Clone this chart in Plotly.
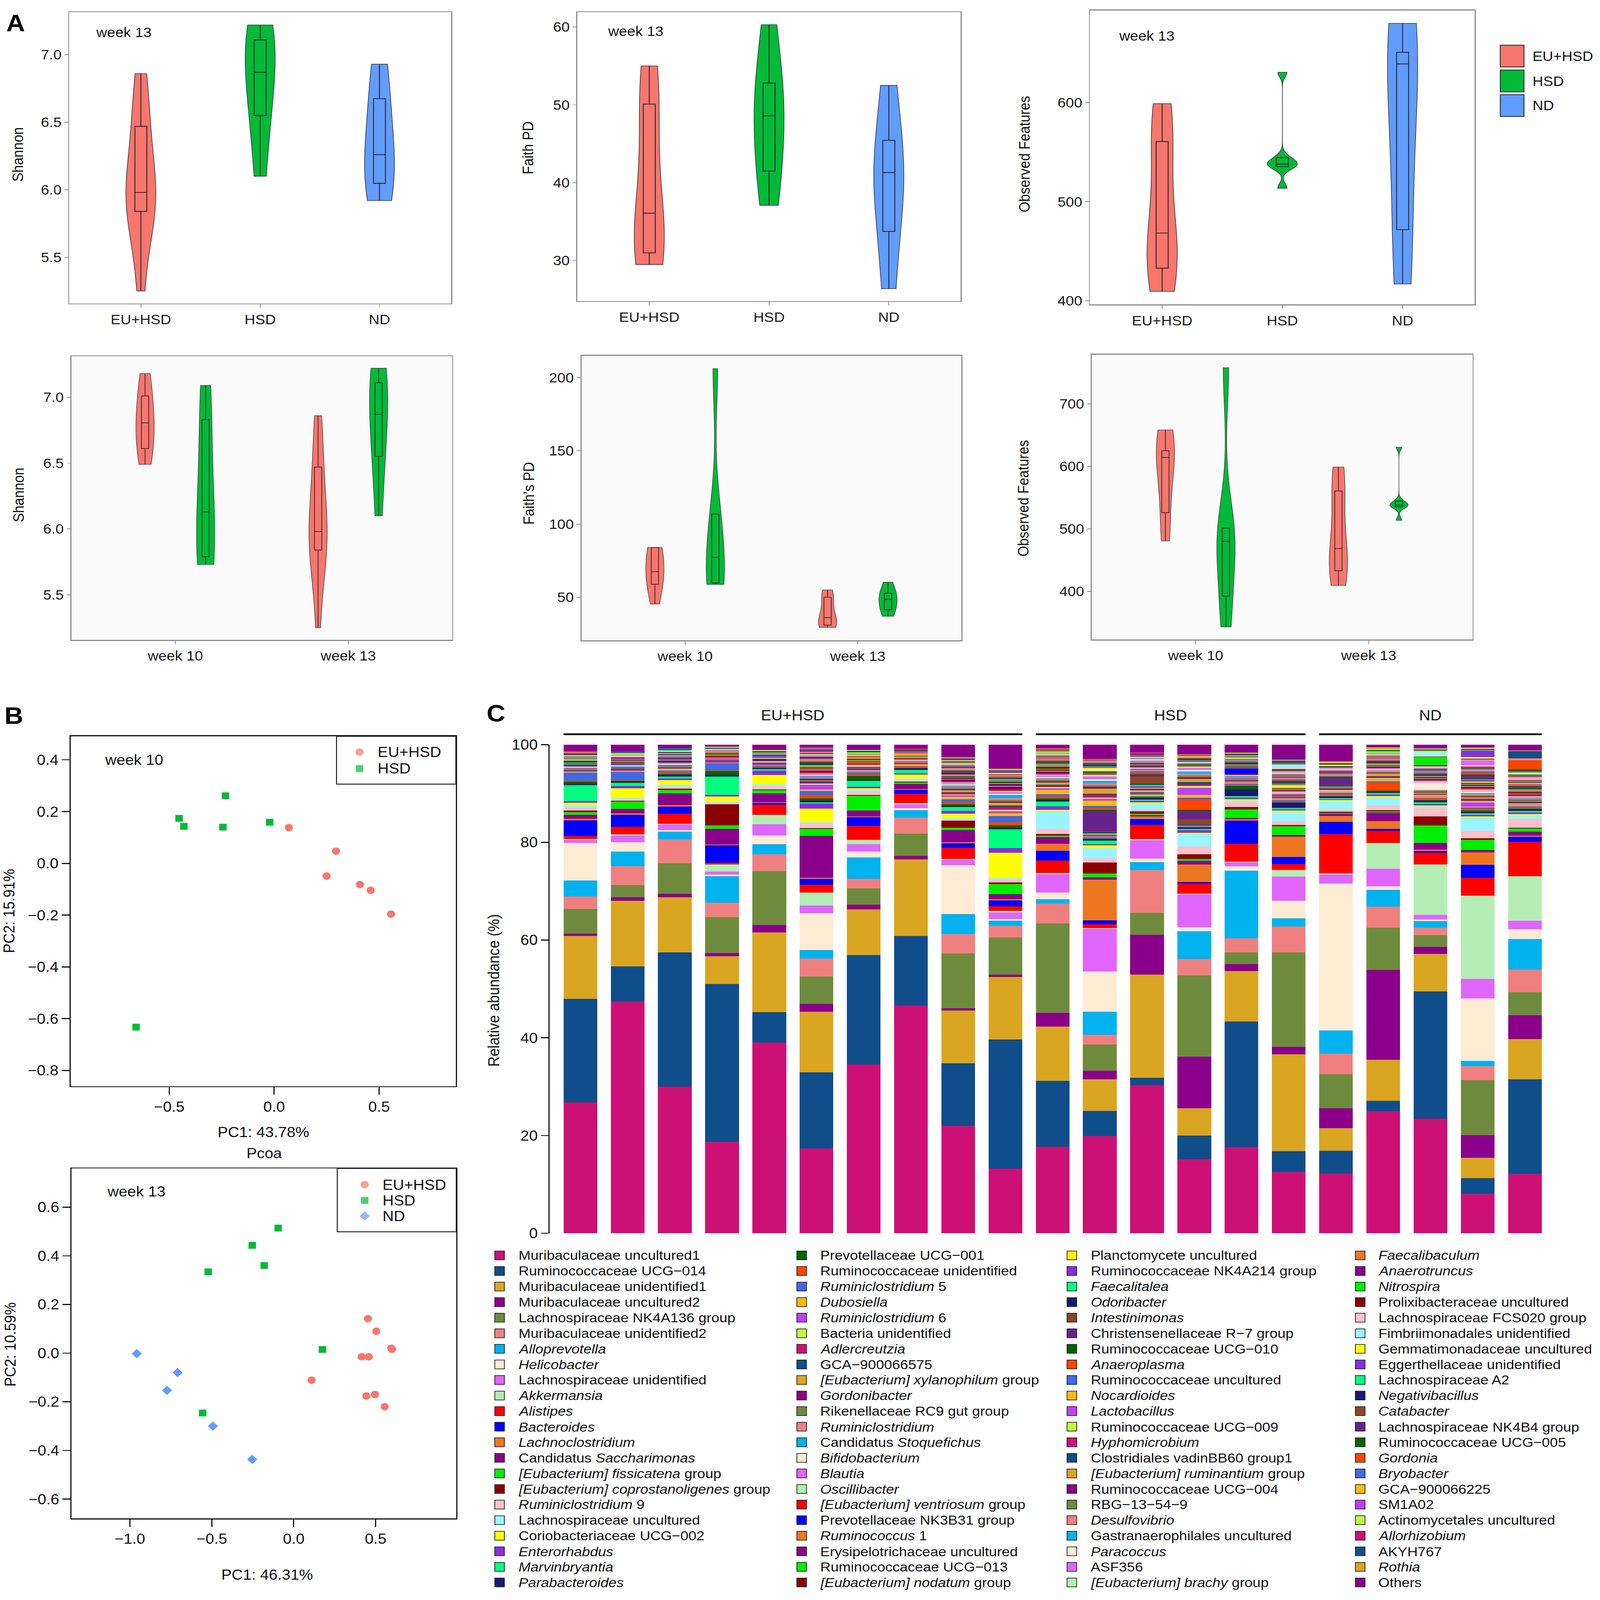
import plotly.graph_objects as go

W, H = 4317, 4699
FONT = "Liberation Sans, Arial, sans-serif"
red, green, blue = "#F8766D", "#00BA38", "#619CFF"

#%% panel A: alpha diversity per mouse (read from the violins / boxes)
groups_a = ["EU+HSD", "HSD", "ND"]
weeks = ["week 10", "week 13"]

shannon_eu_w13 = [5.25, 5.78, 5.84, 5.90, 5.95, 6.01, 6.18, 6.47, 6.62, 6.86]
shannon_hsd_w13 = [6.10, 6.55, 6.71, 7.03, 7.11, 7.22]
shannon_nd_w13 = [5.92, 6.09, 6.26, 6.59, 6.93]
shannon_eu_w10 = [6.49, 6.61, 6.77, 6.84, 7.01, 7.18]
shannon_hsd_w10 = [5.73, 5.79, 5.95, 6.31, 6.83, 7.09]

faith_eu_w13 = [29.5, 30.2, 31.0, 32.6, 34.4, 37.8, 45.2, 50.1, 53.0, 55.0]
faith_hsd_w13 = [37.1, 41.5, 46.7, 50.5, 52.8, 60.3]
faith_nd_w13 = [26.4, 36.2, 41.3, 43.1, 52.5]
faith_eu_w10 = [45.4, 58.9, 65.0, 70.0, 84.0, 84.1]
faith_hsd_w10 = [58.8, 59.8, 63.0, 91.4, 106.9, 206.2]

obs_eu_w13 = [409.5, 425, 433, 451, 462, 474.8, 548, 560.7, 585, 599]
obs_hsd_w13 = [513.6, 535.5, 537.5, 538.5, 544.5, 630.6]
obs_nd_w13 = [417, 490, 639, 641, 680]
obs_eu_w10 = [480.6, 525.9, 608.0, 620.6, 625.1, 658.4]
obs_hsd_w10 = [343, 392.5, 470.0, 489.8, 501.3, 758]

#%% panel B: PCoA coordinates
w10_eu_pc1 = [0.070, 0.295, 0.250, 0.409, 0.460, 0.557]
w10_eu_pc2 = [0.138, 0.047, -0.049, -0.082, -0.104, -0.196]
w10_hsd_pc1 = [-0.453, -0.430, -0.232, -0.244, -0.021, -0.658]
w10_hsd_pc2 = [0.174, 0.143, 0.261, 0.140, 0.159, -0.633]
w13_eu_pc1 = [0.453, 0.504, 0.595, 0.600, 0.415, 0.458, 0.109, 0.444, 0.496, 0.555]
w13_eu_pc2 = [0.142, 0.090, 0.020, 0.016, -0.015, -0.015, -0.111, -0.176, -0.170, -0.220]
w13_hsd_pc1 = [-0.095, -0.253, -0.180, -0.522, 0.175, -0.556]
w13_hsd_pc2 = [0.514, 0.443, 0.360, 0.334, 0.015, -0.246]
w13_nd_pc1 = [-0.958, -0.709, -0.773, -0.493, -0.253]
w13_nd_pc2 = [-0.002, -0.080, -0.153, -0.300, -0.437]

#%% panel C: taxa (stack order = legend order, bottom to top)
taxa = [
    "Muribaculaceae uncultured1", "Ruminococcaceae UCG\u2212014", "Muribaculaceae unidentified1",
    "Muribaculaceae uncultured2", "Lachnospiraceae NK4A136 group", "Muribaculaceae unidentified2",
    "<i>Alloprevotella</i>", "<i>Helicobacter</i>", "Lachnospiraceae unidentified", "<i>Akkermansia</i>",
    "<i>Alistipes</i>", "<i>Bacteroides</i>", "<i>Lachnoclostridium</i>", "Candidatus <i>Saccharimonas</i>",
    "<i>[Eubacterium] fissicatena</i> group", "<i>[Eubacterium] coprostanoligenes</i> group",
    "<i>Ruminiclostridium</i> 9", "Lachnospiraceae uncultured", "Coriobacteriaceae UCG\u2212002",
    "<i>Enterorhabdus</i>", "<i>Marvinbryantia</i>", "<i>Parabacteroides</i>",
    "Prevotellaceae UCG\u2212001", "Ruminococcaceae unidentified", "<i>Ruminiclostridium</i> 5",
    "<i>Dubosiella</i>", "<i>Ruminiclostridium</i> 6", "Bacteria unidentified", "<i>Adlercreutzia</i>",
    "GCA\u2212900066575", "<i>[Eubacterium] xylanophilum</i> group", "<i>Gordonibacter</i>",
    "Rikenellaceae RC9 gut group", "<i>Ruminiclostridium</i>", "Candidatus <i>Stoquefichus</i>",
    "<i>Bifidobacterium</i>", "<i>Blautia</i>", "<i>Oscillibacter</i>", "<i>[Eubacterium] ventriosum</i> group",
    "Prevotellaceae NK3B31 group", "<i>Ruminococcus</i> 1", "Erysipelotrichaceae uncultured",
    "Ruminococcaceae UCG\u2212013", "<i>[Eubacterium] nodatum</i> group",
    "Planctomycete uncultured", "Ruminococcaceae NK4A214 group", "<i>Faecalitalea</i>", "<i>Odoribacter</i>",
    "<i>Intestinimonas</i>", "Christensenellaceae R\u22127 group", "Ruminococcaceae UCG\u2212010",
    "<i>Anaeroplasma</i>", "Ruminococcaceae uncultured", "<i>Nocardioides</i>", "<i>Lactobacillus</i>",
    "Ruminococcaceae UCG\u2212009", "<i>Hyphomicrobium</i>", "Clostridiales vadinBB60 group1",
    "<i>[Eubacterium] ruminantium</i> group", "Ruminococcaceae UCG\u2212004", "RBG\u221213\u221254\u22129",
    "<i>Desulfovibrio</i>", "Gastranaerophilales uncultured", "<i>Paracoccus</i>", "ASF356",
    "<i>[Eubacterium] brachy</i> group",
    "<i>Faecalibaculum</i>", "<i>Anaerotruncus</i>", "<i>Nitrospira</i>", "Prolixibacteraceae uncultured",
    "Lachnospiraceae FCS020 group", "Fimbriimonadales unidentified", "Gemmatimonadaceae uncultured",
    "Eggerthellaceae unidentified", "Lachnospiraceae A2", "<i>Negativibacillus</i>", "<i>Catabacter</i>",
    "Lachnospiraceae NK4B4 group", "Ruminococcaceae UCG\u2212005", "<i>Gordonia</i>", "<i>Bryobacter</i>",
    "GCA\u2212900066225", "SM1A02", "Actinomycetales uncultured", "<i>Allorhizobium</i>", "AKYH767",
    "<i>Rothia</i>", "Others",
]
pal = {"dp": "#CD1076", "db": "#104E8B", "gr": "#DAA520", "dm": "#8B008B", "ol": "#6E8B3D",
       "lc": "#F08080", "sk": "#00B2EE", "aw": "#FDEBD4", "mo": "#E066FF", "sg": "#B4EEB4",
       "rd": "#FF0000", "bl": "#0000FF", "ch": "#EE7621", "g2": "#00EE00", "dr": "#8B0000",
       "pk": "#FFC0CB", "cb": "#98F5FF", "ye": "#FFFF00", "bv": "#8A2BE2", "sp": "#00FF7F",
       "mb": "#191970", "dg": "#006400", "or": "#FF4500", "rb": "#4169E1", "dg1": "#FFB90F",
       "do1": "#BF3EFF", "od": "#C0FF3E", "si": "#8B4726", "do4": "#68228B"}
taxa_colors = [pal[k] for k in (
    "dp db gr dm ol lc sk aw mo sg rd bl ch dm g2 dr pk cb ye bv sp mb "
    "dg or rb dg1 do1 od dp db gr dm ol lc sk aw mo sg rd bl ch dm g2 dr "
    "ye bv sp mb si do4 dg or rb dg1 do1 od dp db gr dm ol lc sk aw mo sg "
    "ch dm g2 dr pk cb ye bv sp mb si do4 dg or rb dg1 do1 od dp db gr dm").split()]

samples = ["EU+HSD %d" % i for i in range(1, 11)] + ["HSD %d" % i for i in range(1, 7)] + ["ND %d" % i for i in range(1, 6)]

# relative abundance (%) of each taxon, one list per mouse, in taxa order
eu1 = [26.8, 21.2, 12.9, 0.5, 5.0, 2.6, 3.3, 7.7, 0.6, 0.2, 0.6, 3.2, 0.3, 0.8, 0.6, 0.3, 0.6, 0.5, 0.5, 0.3, 3.3, 0.3,
       0.4, 0.2, 1.7, 0.1, 0.2, 0.0, 0.1, 0.1, 0.2, 0.1, 0.0, 0.1, 0.1, 0.2, 0.1, 0.0, 0.1, 0.2, 0.1, 0.0, 0.1, 0.1,
       0.1, 0.0, 0.1, 0.1, 0.0, 0.1, 0.1, 0.0, 0.1, 0.1, 0.0, 0.1, 0.0, 0.1, 0.1, 0.0, 0.1, 0.0, 0.1, 0.0, 0.1, 0.0,
       0.1, 0.0, 0.1, 0.0, 0.1, 0.1, 0.0, 0.1, 0.0, 0.1, 0.0, 0.1, 0.0, 0.1, 0.0, 0.1, 0.0, 0.0, 0.1, 0.0, 0.1, 1.4]
eu2 = [47.2, 7.2, 13.4, 0.7, 2.5, 3.9, 2.9, 1.9, 1.4, 0.2, 1.5, 2.5, 0.3, 0.9, 1.5, 0.2, 0.3, 0.3, 1.9, 0.5, 0.6, 0.3,
       0.2, 0.1, 1.7, 0.2, 0.1, 0.0, 0.1, 0.2, 0.1, 0.1, 0.1, 0.0, 0.2, 0.1, 0.1, 0.1, 0.0, 0.2, 0.1, 0.1, 0.0, 0.1,
       0.0, 0.1, 0.1, 0.0, 0.1, 0.1, 0.0, 0.2, 0.1, 0.0, 0.1, 0.0, 0.1, 0.1, 0.0, 0.1, 0.0, 0.1, 0.0, 0.1, 0.0, 0.1,
       0.1, 0.0, 0.1, 0.0, 0.0, 0.1, 0.1, 0.0, 0.1, 0.0, 0.0, 0.1, 0.0, 0.0, 0.1, 0.0, 0.1, 0.0, 0.0, 0.1, 0.0, 1.3]
eu3 = [29.9, 27.4, 11.2, 0.7, 6.2, 4.9, 1.6, 0.3, 1.1, 0.2, 2.0, 1.5, 0.3, 2.4, 0.7, 0.2, 0.4, 0.4, 1.0, 0.3, 0.4, 0.3,
       0.3, 0.2, 0.4, 0.2, 0.1, 0.1, 0.2, 0.1, 0.2, 0.1, 0.1, 0.0, 0.1, 0.2, 0.1, 0.1, 0.2, 0.1, 0.0, 0.1, 0.1, 0.1,
       0.1, 0.1, 0.0, 0.1, 0.1, 0.0, 0.1, 0.1, 0.1, 0.0, 0.1, 0.1, 0.0, 0.1, 0.0, 0.1, 0.1, 0.0, 0.1, 0.0, 0.1, 0.0,
       0.1, 0.1, 0.0, 0.1, 0.0, 0.1, 0.1, 0.0, 0.1, 0.0, 0.1, 0.0, 0.1, 0.0, 0.1, 0.0, 0.1, 0.0, 0.0, 0.1, 0.0, 0.6]
eu4 = [18.7, 32.3, 5.6, 0.7, 7.3, 3.0, 5.4, 0.3, 0.7, 1.4, 0.3, 3.6, 0.2, 3.2, 0.7, 4.3, 0.3, 0.3, 1.0, 0.3, 3.8, 0.3,
       0.9, 0.1, 1.4, 0.1, 0.2, 0.0, 0.1, 0.1, 0.1, 0.2, 0.0, 0.1, 0.1, 0.0, 0.1, 0.1, 0.1, 0.0, 0.1, 0.1, 0.0, 0.1,
       0.1, 0.0, 0.1, 0.0, 0.1, 0.0, 0.1, 0.0, 0.1, 0.1, 0.0, 0.0, 0.1, 0.0, 0.1, 0.0, 0.0, 0.1, 0.0, 0.0, 0.1, 0.0,
       0.1, 0.0, 0.0, 0.1, 0.0, 0.1, 0.0, 0.0, 0.1, 0.0, 0.0, 0.1, 0.0, 0.0, 0.1, 0.0, 0.0, 0.1, 0.0, 0.0, 0.1, 0.4]
eu5 = [38.8, 6.2, 16.2, 1.5, 11.0, 3.4, 2.1, 1.7, 2.3, 1.9, 2.1, 0.3, 0.2, 1.8, 0.6, 0.2, 0.7, 0.3, 1.9, 0.9, 0.3, 0.3,
       0.1, 0.1, 0.3, 0.1, 0.1, 0.0, 0.1, 0.1, 0.1, 0.0, 0.1, 0.1, 0.0, 0.1, 0.1, 0.0, 0.1, 0.1, 0.0, 0.1, 0.0, 0.1,
       0.1, 0.0, 0.1, 0.0, 0.1, 0.0, 0.0, 0.1, 0.1, 0.0, 0.1, 0.0, 0.0, 0.1, 0.0, 0.1, 0.0, 0.0, 0.1, 0.0, 0.1, 0.0,
       0.1, 0.0, 0.1, 0.0, 0.0, 0.1, 0.0, 0.1, 0.0, 0.0, 0.1, 0.0, 0.1, 0.0, 0.0, 0.1, 0.0, 0.1, 0.0, 0.1, 0.0, 1.0]
eu6 = [17.4, 15.6, 12.4, 1.6, 5.6, 3.7, 1.8, 7.5, 1.6, 2.7, 1.6, 1.2, 0.2, 8.6, 1.4, 0.2, 1.0, 0.3, 2.7, 1.0, 0.3, 0.3,
       0.5, 0.6, 0.9, 0.3, 1.0, 0.2, 0.2, 0.3, 0.2, 0.3, 0.2, 0.1, 0.3, 0.2, 0.2, 0.1, 0.4, 0.2, 0.3, 0.2, 0.1, 0.2,
       0.1, 0.2, 0.1, 0.2, 0.1, 0.1, 0.2, 0.1, 0.1, 0.1, 0.2, 0.1, 0.1, 0.1, 0.1, 0.1, 0.1, 0.1, 0.1, 0.1, 0.1, 0.1,
       0.1, 0.1, 0.0, 0.1, 0.1, 0.0, 0.1, 0.1, 0.0, 0.1, 0.1, 0.0, 0.1, 0.0, 0.1, 0.0, 0.1, 0.0, 0.1, 0.0, 0.1, 0.6]
eu7 = [34.4, 22.3, 9.3, 1.0, 3.3, 1.9, 4.4, 1.2, 1.5, 0.9, 2.9, 1.7, 0.2, 1.2, 3.0, 0.2, 0.7, 0.3, 0.3, 0.3, 1.2, 0.3,
       0.8, 0.3, 0.4, 0.1, 0.2, 0.1, 0.1, 0.2, 0.1, 0.1, 0.2, 0.1, 0.0, 0.1, 0.1, 0.1, 0.3, 0.1, 0.1, 0.0, 0.1, 0.1,
       0.1, 0.1, 0.1, 0.0, 0.1, 0.0, 0.1, 0.1, 0.0, 0.1, 0.1, 0.0, 0.1, 0.0, 0.1, 0.1, 0.0, 0.1, 0.0, 0.1, 0.0, 0.1,
       0.1, 0.0, 0.1, 0.0, 0.1, 0.0, 0.1, 0.0, 0.1, 0.0, 0.1, 0.0, 0.1, 0.0, 0.1, 0.0, 0.0, 0.1, 0.0, 0.1, 0.0, 1.0]
eu8 = [46.3, 14.1, 15.6, 0.7, 4.5, 3.3, 1.5, 0.4, 0.8, 0.2, 1.9, 0.8, 0.2, 1.0, 0.3, 0.2, 0.3, 0.3, 0.8, 0.3, 0.7, 0.3,
       0.1, 0.2, 0.2, 0.3, 0.1, 0.0, 0.1, 0.1, 0.2, 0.1, 0.0, 0.1, 0.1, 0.1, 0.0, 0.1, 0.1, 0.0, 0.1, 0.1, 0.0, 0.1,
       0.1, 0.0, 0.1, 0.0, 0.1, 0.0, 0.0, 0.1, 0.0, 0.1, 0.0, 0.1, 0.0, 0.0, 0.1, 0.0, 0.0, 0.1, 0.0, 0.0, 0.1, 0.0,
       0.1, 0.0, 0.0, 0.1, 0.0, 0.1, 0.0, 0.1, 0.0, 0.0, 0.1, 0.0, 0.1, 0.0, 0.0, 0.1, 0.0, 0.0, 0.1, 0.0, 0.1, 0.8]
eu9 = [22.0, 12.8, 10.8, 0.5, 11.2, 4.0, 4.1, 10.0, 1.1, 0.2, 2.3, 0.9, 0.2, 2.5, 0.5, 1.4, 0.3, 0.3, 0.9, 0.5, 0.8, 0.3,
       0.3, 0.4, 0.6, 0.5, 0.3, 0.2, 0.3, 0.2, 0.4, 0.2, 0.3, 0.2, 0.2, 0.3, 0.2, 0.2, 0.3, 0.2, 0.2, 0.3, 0.2, 0.2,
       0.1, 0.2, 0.1, 0.1, 0.2, 0.1, 0.1, 0.1, 0.2, 0.1, 0.1, 0.1, 0.1, 0.2, 0.1, 0.1, 0.1, 0.1, 0.1, 0.1, 0.1, 0.1,
       0.1, 0.0, 0.1, 0.1, 0.0, 0.1, 0.1, 0.0, 0.1, 0.0, 0.1, 0.0, 0.1, 0.0, 0.1, 0.0, 0.1, 0.0, 0.1, 0.0, 0.1, 2.5]
eu10 = [13.2, 26.4, 12.8, 0.5, 7.6, 2.4, 1.0, 0.3, 1.4, 0.3, 1.0, 1.2, 0.2, 1.0, 2.1, 0.3, 0.7, 0.3, 5.1, 1.0, 3.8, 0.3,
        0.5, 0.6, 1.3, 0.6, 0.4, 0.3, 0.5, 0.4, 0.5, 0.3, 0.3, 0.4, 0.6, 0.3, 0.3, 0.2, 0.5, 0.3, 0.3, 0.4, 0.2, 0.3,
        0.1, 0.1, 0.2, 0.1, 0.1, 0.1, 0.1, 0.1, 0.1, 0.0, 0.1, 0.1, 0.1, 0.0, 0.1, 0.1, 0.0, 0.1, 0.0, 0.1, 0.0, 0.1,
        0.0, 0.1, 0.0, 0.1, 0.0, 0.1, 0.0, 0.0, 0.1, 0.0, 0.0, 0.1, 0.0, 0.0, 0.1, 0.0, 0.0, 0.1, 0.0, 0.0, 0.1, 4.9]
hsd1 = [17.7, 13.5, 11.1, 2.8, 18.3, 4.1, 0.9, 1.3, 3.8, 0.2, 2.6, 2.0, 1.4, 1.4, 0.3, 0.3, 1.1, 3.6, 0.3, 0.7, 1.0, 0.3,
        0.3, 0.4, 0.5, 0.9, 0.3, 0.2, 0.3, 0.2, 0.5, 0.2, 0.3, 0.2, 0.2, 0.2, 0.3, 0.2, 0.3, 0.2, 0.3, 0.2, 0.2, 0.5,
        0.1, 0.2, 0.2, 0.2, 0.1, 0.1, 0.1, 0.2, 0.1, 0.1, 0.1, 0.1, 0.1, 0.1, 0.1, 0.1, 0.1, 0.1, 0.1, 0.1, 0.1, 0.1,
        0.1, 0.0, 0.1, 0.0, 0.1, 0.0, 0.1, 0.0, 0.1, 0.0, 0.1, 0.0, 0.0, 0.1, 0.0, 0.1, 0.0, 0.0, 0.1, 0.0, 0.1, 0.8]
hsd2 = [19.9, 5.1, 6.5, 1.7, 5.4, 2.0, 4.7, 8.2, 8.7, 0.2, 0.8, 0.8, 8.3, 0.5, 0.8, 2.2, 0.9, 2.1, 0.5, 0.3, 0.7, 0.3,
        0.1, 0.0, 0.1, 0.0, 0.1, 0.0, 0.0, 0.1, 0.0, 0.0, 0.1, 0.0, 0.0, 0.1, 0.0, 0.0, 0.1, 0.0, 0.0, 0.1, 0.0, 0.0,
        0.1, 0.1, 0.2, 0.2, 0.1, 4.2, 0.3, 0.3, 0.5, 1.0, 0.4, 0.3, 0.5, 0.3, 1.0, 0.4, 0.3, 0.4, 0.5, 0.3, 0.6, 0.3,
        0.2, 0.1, 0.2, 0.2, 0.1, 0.2, 0.5, 0.1, 0.2, 0.1, 0.2, 0.1, 0.1, 0.2, 0.1, 0.1, 0.2, 0.1, 0.1, 0.1, 0.1, 2.9]
hsd3 = [30.3, 1.5, 21.1, 8.1, 4.5, 8.8, 1.6, 0.7, 3.8, 0.2, 2.9, 1.2, 0.5, 0.3, 0.3, 0.5, 0.3, 1.2, 0.3, 0.3, 0.3, 0.3,
        0.2, 0.1, 0.1, 0.2, 0.1, 0.1, 0.0, 0.1, 0.1, 0.1, 0.0, 0.1, 0.1, 0.0, 0.1, 0.1, 0.1, 0.0, 0.1, 0.1, 0.0, 0.1,
        0.2, 0.3, 0.3, 0.2, 1.5, 0.3, 0.2, 0.3, 0.3, 0.2, 0.3, 0.2, 0.2, 0.3, 0.2, 0.2, 0.2, 0.2, 0.2, 0.2, 0.3, 0.2,
        0.1, 0.0, 0.1, 0.1, 0.0, 0.1, 0.0, 0.1, 0.0, 0.1, 0.0, 0.1, 0.0, 0.1, 0.0, 0.0, 0.1, 0.0, 0.1, 0.0, 0.0, 1.5]
hsd4 = [15.1, 4.9, 5.6, 10.5, 16.7, 3.3, 5.7, 0.8, 6.7, 0.2, 2.1, 0.3, 3.6, 0.7, 0.4, 1.0, 1.6, 2.5, 0.3, 0.5, 0.3, 0.3,
        0.0, 0.1, 0.0, 0.0, 0.1, 0.0, 0.0, 0.0, 0.1, 0.0, 0.0, 0.0, 0.1, 0.0, 0.0, 0.0, 0.0, 0.1, 0.0, 0.0, 0.0, 0.0,
        0.0, 0.0, 0.0, 0.0, 1.2, 1.6, 0.3, 2.1, 0.4, 0.5, 1.5, 0.4, 0.3, 0.5, 0.6, 0.3, 0.4, 0.3, 0.5, 0.3, 0.4, 0.3,
        0.2, 0.1, 0.2, 0.1, 0.2, 0.1, 0.1, 0.1, 0.2, 0.1, 0.1, 0.1, 0.1, 0.1, 0.1, 0.1, 0.1, 0.1, 0.1, 0.1, 0.1, 2.0]
hsd5 = [17.5, 25.6, 10.3, 1.4, 2.4, 2.9, 13.7, 0.9, 0.8, 0.2, 3.6, 4.7, 0.3, 0.3, 1.7, 0.5, 1.0, 0.3, 0.3, 0.3, 0.3, 1.4,
        0.7, 0.2, 0.3, 0.2, 0.1, 0.1, 0.2, 0.1, 0.2, 0.1, 0.1, 0.1, 0.2, 0.1, 0.1, 0.1, 0.2, 1.2, 0.2, 0.1, 0.2, 0.1,
        0.1, 0.1, 0.1, 0.1, 0.1, 0.0, 0.1, 0.1, 0.1, 0.0, 0.1, 0.1, 0.0, 0.1, 0.1, 0.0, 0.1, 0.1, 0.0, 0.1, 0.1, 0.0,
        0.1, 0.0, 0.1, 0.1, 0.0, 0.1, 0.0, 0.1, 0.0, 0.1, 0.0, 0.1, 0.0, 0.1, 0.0, 0.1, 0.0, 0.1, 0.0, 0.1, 0.0, 1.5]
hsd6 = [12.5, 4.3, 19.8, 1.5, 19.3, 5.3, 1.7, 3.6, 4.9, 1.4, 1.2, 1.4, 4.2, 0.3, 1.8, 0.3, 0.7, 1.9, 0.3, 0.3, 0.3, 1.0,
        0.2, 0.1, 0.3, 0.2, 0.1, 0.1, 0.2, 0.1, 0.2, 0.1, 0.1, 0.2, 0.1, 0.1, 0.2, 0.1, 0.1, 0.1, 0.2, 0.1, 0.1, 0.1,
        0.5, 0.2, 0.2, 0.1, 0.1, 0.2, 0.1, 0.2, 0.1, 0.1, 0.2, 0.1, 0.1, 0.1, 0.2, 0.1, 0.1, 0.1, 0.1, 0.1, 0.2, 0.1,
        0.2, 0.1, 0.1, 0.1, 0.2, 0.7, 0.1, 0.1, 0.1, 0.1, 0.1, 0.1, 0.1, 0.1, 0.1, 0.0, 0.1, 0.1, 0.0, 0.1, 0.0, 2.9]
nd1 = [12.2, 4.6, 4.7, 4.0, 7.0, 4.2, 4.7, 30.0, 1.9, 0.2, 8.1, 2.4, 1.2, 0.5, 0.2, 0.2, 0.5, 1.7, 0.2, 0.2, 0.2, 0.3,
       0.1, 0.1, 0.1, 0.1, 0.1, 0.0, 0.1, 0.1, 0.1, 0.1, 0.0, 0.1, 0.1, 0.1, 0.0, 0.1, 0.1, 0.0, 0.1, 0.1, 0.0, 0.1,
       0.1, 0.2, 0.1, 0.2, 0.1, 1.4, 0.2, 0.1, 0.2, 0.1, 0.2, 0.1, 0.1, 0.2, 0.1, 0.1, 0.1, 0.1, 0.1, 0.1, 0.2, 0.1,
       0.1, 0.1, 0.1, 0.1, 0.0, 0.1, 0.1, 0.0, 0.1, 0.1, 0.0, 0.1, 0.0, 0.1, 0.0, 0.1, 0.0, 0.1, 0.0, 0.0, 0.1, 3.4]
nd2 = [24.9, 2.2, 8.4, 18.3, 8.7, 4.3, 3.4, 0.7, 3.6, 5.3, 2.5, 0.4, 1.6, 1.7, 0.3, 0.2, 1.0, 1.6, 0.3, 0.3, 0.3, 0.3,
       0.2, 1.7, 0.2, 0.4, 0.2, 0.1, 0.2, 0.2, 0.5, 0.2, 0.1, 0.2, 0.2, 0.1, 0.2, 0.1, 0.2, 0.1, 0.2, 0.1, 0.1, 0.1,
       0.1, 0.1, 0.1, 0.1, 0.1, 0.1, 0.1, 0.1, 0.1, 0.1, 0.1, 0.1, 0.1, 0.1, 0.1, 0.1, 0.1, 0.1, 0.1, 0.1, 0.1, 0.1,
       0.1, 0.0, 0.1, 0.0, 0.1, 0.0, 0.1, 0.0, 0.1, 0.0, 0.1, 0.0, 0.1, 0.0, 0.0, 0.1, 0.0, 0.1, 0.0, 0.0, 0.4, 0.5]
nd3 = [23.4, 26.1, 7.7, 1.4, 2.4, 1.5, 1.4, 0.3, 1.0, 10.3, 2.4, 0.3, 0.3, 1.4, 3.6, 1.8, 1.7, 0.3, 0.3, 0.3, 0.3, 0.3,
       0.2, 0.3, 0.2, 0.2, 0.2, 0.1, 0.2, 0.1, 0.2, 0.2, 0.1, 0.2, 0.1, 1.5, 0.2, 0.1, 0.2, 0.1, 0.2, 0.1, 0.1, 0.1,
       0.1, 0.1, 0.1, 0.1, 0.1, 0.1, 0.1, 0.1, 0.1, 0.1, 0.1, 0.1, 0.1, 0.1, 0.1, 0.1, 0.1, 0.1, 0.1, 0.1, 0.1, 0.1,
       0.1, 0.1, 1.7, 0.1, 0.1, 0.9, 0.1, 0.0, 0.1, 0.0, 0.1, 0.0, 0.1, 0.0, 0.1, 0.0, 0.0, 0.1, 0.0, 0.0, 0.0, 0.8]
nd4 = [8.1, 3.2, 4.2, 4.6, 11.3, 2.9, 1.1, 12.8, 4.0, 17.1, 3.7, 2.6, 2.6, 0.5, 2.1, 0.3, 1.5, 2.7, 0.3, 0.3, 0.3, 0.3,
       0.3, 0.3, 0.3, 0.2, 0.9, 0.2, 0.3, 0.2, 0.3, 0.2, 0.2, 0.3, 0.2, 0.3, 0.2, 0.2, 0.3, 0.2, 0.2, 0.3, 0.2, 0.2,
       0.2, 0.3, 0.2, 0.2, 0.1, 0.5, 0.2, 0.4, 0.2, 0.1, 0.2, 0.1, 0.1, 0.2, 0.1, 0.1, 0.1, 0.1, 0.1, 0.1, 1.0, 0.1,
       0.1, 0.1, 0.1, 0.0, 0.1, 0.1, 0.1, 1.3, 0.1, 0.1, 0.0, 0.1, 0.0, 0.1, 0.0, 0.1, 0.0, 0.1, 0.0, 0.0, 0.0, 0.6]
nd5 = [12.2, 19.4, 8.2, 4.9, 4.7, 4.7, 6.2, 2.0, 1.8, 9.1, 7.1, 1.0, 0.3, 0.8, 0.6, 0.2, 1.8, 0.7, 0.3, 0.3, 0.3, 0.3,
       0.2, 0.2, 0.3, 0.2, 0.2, 0.1, 0.2, 0.2, 0.2, 0.1, 0.2, 0.2, 0.1, 0.2, 0.1, 0.1, 0.2, 0.1, 0.2, 0.1, 0.1, 0.2,
       0.2, 0.2, 0.1, 0.2, 0.1, 0.2, 0.1, 0.2, 0.1, 0.1, 0.2, 0.1, 0.1, 0.2, 0.1, 0.1, 0.1, 0.1, 0.1, 0.1, 0.2, 0.1,
       0.1, 0.2, 0.1, 0.1, 0.2, 0.1, 0.1, 0.1, 0.1, 0.1, 0.1, 0.1, 0.1, 1.9, 0.1, 0.1, 0.1, 0.1, 0.1, 1.4, 0.1, 1.2]
abundance = [eu1, eu2, eu3, eu4, eu5, eu6, eu7, eu8, eu9, eu10,
             hsd1, hsd2, hsd3, hsd4, hsd5, hsd6, nd1, nd2, nd3, nd4, nd5]
group_c = ["EU+HSD", "HSD", "ND"]
group_n = [10, 6, 5]
for s in abundance:
    assert len(s) == len(taxa) == len(taxa_colors)


#%% helpers (pixel positions of the original figure -> paper fractions)
def px(x):
    return x / W


def py(y):
    return 1 - y / H


def xdom(a, b):
    return [a / W, b / W]


def ydom(top, bottom):
    return [1 - bottom / H, 1 - top / H]


def note(text, x, y, size=40, **kw):
    d = dict(text=text, x=px(x), y=py(y), xref="paper", yref="paper", showarrow=False,
             xanchor="center", yanchor="middle", font=dict(size=size, family=FONT, color="#111111"))
    d.update(kw)
    return d


fig = go.Figure()
annotations, shapes = [], []
layout = {}

#%% panel A
def add_violin(vals, cat, color, ax, lw=1.8, bw=2.5, **kw):
    fig.add_trace(go.Violin(
        x=[cat] * len(vals), y=vals, xaxis="x" + ax, yaxis="y" + ax,
        fillcolor=color, line=dict(color="#3c3c3c", width=lw), opacity=1,
        spanmode="hard", points=False, scalemode="width", meanline_visible=False,
        box=dict(visible=True, width=0.4, fillcolor=color, line=dict(color="#2b2b2b", width=bw)),
        showlegend=False, hoverinfo="skip", **kw))


a_top = [("", shannon_eu_w13, shannon_hsd_w13, shannon_nd_w13),
         ("2", faith_eu_w13, faith_hsd_w13, faith_nd_w13),
         ("3", obs_eu_w13, obs_hsd_w13, obs_nd_w13)]
for ax, e, h, n in a_top:
    for vals, g, c in zip((e, h, n), groups_a, (red, green, blue)):
        add_violin(vals, g, c, ax, width=0.25)

# one trace per violin so that each one is scaled to its own maximum width
a_bottom = [("4", shannon_eu_w10, shannon_eu_w13, shannon_hsd_w10, shannon_hsd_w13),
            ("5", faith_eu_w10, faith_eu_w13, faith_hsd_w10, faith_hsd_w13),
            ("6", obs_eu_w10, obs_eu_w13, obs_hsd_w10, obs_hsd_w13)]
for ax, e10, e13, h10, h13 in a_bottom:
    for vals, wk, c, g in ((e10, weeks[0], red, "eu"), (h10, weeks[0], green, "hsd"),
                           (e13, weeks[1], red, "eu"), (h13, weeks[1], green, "hsd")):
        add_violin(vals, wk, c, ax, lw=1.5, bw=2, offsetgroup=g, alignmentgroup="wk" + ax)

a_frames = {
    "": ((187, 1217), (13, 877), [-0.6, 2.6], [5.158, 7.315], [5.5, 6.0, 6.5, 7.0], ".1f", groups_a),
    "2": ((1558, 2592), (13, 870), [-0.6, 2.6], [24.8, 61.9], [30, 40, 50, 60], "", groups_a),
    "3": ((2941, 3979), (8, 880), [-0.6, 2.6], [396.3, 692.9], [400, 500, 600], "", groups_a),
    "4": ((193, 1220), (1034, 1875), [-0.6, 1.6], [5.158, 7.31], [5.5, 6.0, 6.5, 7.0], ".1f", weeks),
    "5": ((1569, 2594), (1032, 1876), [-0.6, 1.6], [20.7, 215], [50, 100, 150, 200], "", weeks),
    "6": ((2946, 3973), (1029, 1874), [-0.6, 1.6], [322.8, 778.8], [400, 500, 600, 700], "", weeks),
}
for ax, (xd, yd, xr, yr, tv, fmt, cats) in a_frames.items():
    common = dict(showline=True, mirror=True, linecolor="#8c8c8c", linewidth=3, ticks="outside",
                  ticklen=10, tickwidth=2, tickcolor="#8c8c8c", showgrid=False, zeroline=False,
                  tickfont=dict(size=40, family=FONT, color="#1a1a1a"), fixedrange=True)
    layout["xaxis" + ax] = dict(domain=xdom(*xd), range=xr, anchor="y" + ax, categoryorder="array",
                                categoryarray=cats, **common)
    layout["yaxis" + ax] = dict(domain=ydom(*yd), range=yr, anchor="x" + ax, tickvals=tv,
                                tickformat=fmt, **common)
    if ax in ("4", "5", "6"):
        shapes.append(dict(type="rect", xref="x%s domain" % ax, yref="y%s domain" % ax,
                           x0=0, x1=1, y0=0, y1=1, fillcolor="#FAFAFA", line_width=0, layer="below"))

annotations += [
    note("week 13", 257, 73, xanchor="left"),
    note("week 13", 1638, 70, xanchor="left"),
    note("week 13", 3017, 83, xanchor="left"),
    note("Shannon", 48, 435, textangle=-90),
    note("Faith PD", 1424, 415, textangle=-90),
    note("Observed Features", 2764, 434, textangle=-90),
    note("Shannon", 50, 1445, textangle=-90),
    note("Faith\u2019s PD", 1426, 1440, textangle=-90),
    note("Observed Features", 2761, 1455, textangle=-90),
]
leg_a_y = [143, 217, 290]
for g, y in zip(groups_a, leg_a_y):
    annotations.append(note(g, 4133, y, xanchor="left"))

#%% panel B
b_axes = {
    "7": ((191, 1230), (2161, 3199), [-0.969, 0.866], [-0.861, 0.491],
          [-0.5, 0.0, 0.5], [-0.8, -0.6, -0.4, -0.2, 0.0, 0.2, 0.4]),
    "8": ((193, 1231), (3443, 4481), [-1.356, 0.992], [-0.679, 0.759],
          [-1.0, -0.5, 0.0, 0.5], [-0.6, -0.4, -0.2, 0.0, 0.2, 0.4, 0.6]),
}
for ax, (xd, yd, xr, yr, xt, yt) in b_axes.items():
    common = dict(showline=True, mirror=True, linecolor="#111111", linewidth=2.5, ticks="outside",
                  ticklen=22, tickwidth=2.5, tickcolor="#111111", showgrid=False, zeroline=False,
                  tickformat=".1f", tickfont=dict(size=42, family=FONT, color="#111111"), fixedrange=True)
    layout["xaxis" + ax] = dict(domain=xdom(*xd), range=xr, anchor="y" + ax, tickvals=xt, **common)
    layout["yaxis" + ax] = dict(domain=ydom(*yd), range=yr, anchor="x" + ax, tickvals=yt, **common)

for x, y, c, sym, sz, ax in ((w10_eu_pc1, w10_eu_pc2, red, "circle", 22, "7"),
                             (w10_hsd_pc1, w10_hsd_pc2, green, "square", 20, "7"),
                             (w13_eu_pc1, w13_eu_pc2, red, "circle", 22, "8"),
                             (w13_hsd_pc1, w13_hsd_pc2, green, "square", 20, "8"),
                             (w13_nd_pc1, w13_nd_pc2, blue, "diamond", 21, "8")):
    fig.add_trace(go.Scatter(x=x, y=y, mode="markers", xaxis="x" + ax, yaxis="y" + ax,
                             marker=dict(color=c, symbol=sym, size=sz, line_width=0),
                             showlegend=False, hoverinfo="skip"))

shapes += [
    dict(type="rect", xref="paper", yref="paper", x0=px(908), x1=px(1230), y0=py(2303), y1=py(2161),
         line=dict(color="#111111", width=2.5)),
    dict(type="rect", xref="paper", yref="paper", x0=px(910), x1=px(1231), y0=py(3631), y1=py(3443),
         line=dict(color="#111111", width=2.5)),
]
annotations += [
    note("week 10", 281, 2231, 42, xanchor="left"),
    note("week 13", 287, 3512, 42, xanchor="left"),
    note("PC2: 15.91%", 24, 2679, 42, textangle=-90),
    note("PC1: 43.78%", 711, 3336, 42),
    note("Pcoa", 713, 3398, 42),
    note("PC2: 10.59%", 28, 3965, 42, textangle=-90),
    note("PC1: 46.31%", 721, 4648, 42),
]
leg_b10_y = [2208, 2257]
leg_b13_y = [3491, 3538, 3584]
for g, y in zip(groups_a[:2], leg_b10_y):
    annotations.append(note(g, 1017, y, 42, xanchor="left"))
for g, y in zip(groups_a, leg_b13_y):
    annotations.append(note(g, 1030, y, 42, xanchor="left"))

#%% panel C
bargap = 0.286
for i, name in enumerate(taxa):
    fig.add_trace(go.Bar(x=samples, y=[s[i] for s in abundance], name=name, xaxis="x9", yaxis="y9",
                         marker=dict(color=taxa_colors[i], line_width=0), showlegend=False,
                         hoverinfo="skip"))

layout["xaxis9"] = dict(domain=xdom(1483, 4178), range=[-0.651, 20.5], anchor="y9", visible=False,
                        fixedrange=True)
layout["yaxis9"] = dict(domain=ydom(2186, 3635), range=[0, 100], anchor="x9", showline=True,
                        linecolor="#111111", linewidth=2.5, ticks="outside", ticklen=21, tickwidth=2.5,
                        tickcolor="#111111", tickvals=[0, 20, 40, 60, 80, 100], showgrid=False,
                        zeroline=False, tickfont=dict(size=42, family=FONT, color="#111111"), fixedrange=True)

half = (1 - bargap) / 2
start = 0
for g, n in zip(group_c, group_n):
    shapes.append(dict(type="line", xref="x9", yref="paper", x0=start - half, x1=start + n - 1 + half,
                       y0=py(2155), y1=py(2155), line=dict(color="black", width=5)))
    annotations.append(dict(text=g, x=start + (n - 1) / 2, y=py(2100), xref="x9", yref="paper",
                            showarrow=False, xanchor="center", yanchor="middle",
                            font=dict(size=42, family=FONT, color="#111111")))
    start += n
annotations.append(note("Relative abundance (%)", 1333, 2915, 42, textangle=-90))

# legend of panel C: 4 columns x 22 rows
col_sw = [1348, 2163, 2892, 3670]
col_tx = [1397, 2211, 2941, 3717]
row0, row_step, per_col = 3701, 46.2, 22
leg_x, leg_y = [], []
for i, name in enumerate(taxa):
    c, r = divmod(i, per_col)
    leg_x.append(col_sw[c])
    leg_y.append(row0 + r * row_step)
    annotations.append(note(name, col_tx[c], row0 + r * row_step, 39, xanchor="left"))

#%% overlay axis in pixel units for the hand-made legend keys
layout["xaxis10"] = dict(domain=[0, 1], range=[0, W], visible=False, anchor="y10", fixedrange=True)
layout["yaxis10"] = dict(domain=[0, 1], range=[H, 0], visible=False, anchor="x10", fixedrange=True)
fig.add_trace(go.Scatter(x=leg_x, y=leg_y, mode="markers", xaxis="x10", yaxis="y10",
                         marker=dict(symbol="square", size=26, color=taxa_colors,
                                     line=dict(color="#222222", width=2)),
                         showlegend=False, hoverinfo="skip"))
fig.add_trace(go.Scatter(x=[4080] * 3, y=leg_a_y, mode="markers", xaxis="x10", yaxis="y10",
                         marker=dict(symbol="square", size=64, color=[red, green, blue],
                                     line=dict(color="#333333", width=2.5)),
                         showlegend=False, hoverinfo="skip"))
fig.add_trace(go.Scatter(x=[970, 970, 984, 984, 984], y=leg_b10_y + leg_b13_y, mode="markers",
                         xaxis="x10", yaxis="y10",
                         marker=dict(symbol=["circle", "square", "circle", "square", "diamond"],
                                     size=[22, 20, 22, 20, 21], color=[red, green, red, green, blue],
                                     line_width=0),
                         showlegend=False, hoverinfo="skip"))

#%% panel letters
for letter, x, y in (("A", 42, 45), ("B", 38, 2100), ("C", 1338, 2093)):
    annotations.append(note("<b>%s</b>" % letter, x, y, 70, font=dict(size=70, family=FONT, color="black")))

fig.update_layout(
    width=W, height=H, margin=dict(l=0, r=0, t=0, b=0),
    paper_bgcolor="white", plot_bgcolor="rgba(0,0,0,0)",
    font=dict(family=FONT, color="#111111"),
    showlegend=False, barmode="stack", barnorm="percent", bargap=bargap,
    violinmode="group", violingap=0.3, violingroupgap=0.7,
    annotations=annotations, shapes=shapes, **layout)

# no page margin; if the window is smaller than the fixed-size figure, fit the figure into it
fit = ("document.body.style.margin='0';document.body.style.overflow='hidden';"
       "var d=document.getElementById('{plot_id}');"
       "var sx=Math.min(window.innerWidth/%d,1),sy=Math.min(window.innerHeight/%d,1);"
       "if(sx<1||sy<1){d.style.transformOrigin='0 0';d.style.transform='scale('+sx+','+sy+')';}" % (W, H))
fig.write_html("out.html", post_script=fit, config={"displayModeBar": False})
